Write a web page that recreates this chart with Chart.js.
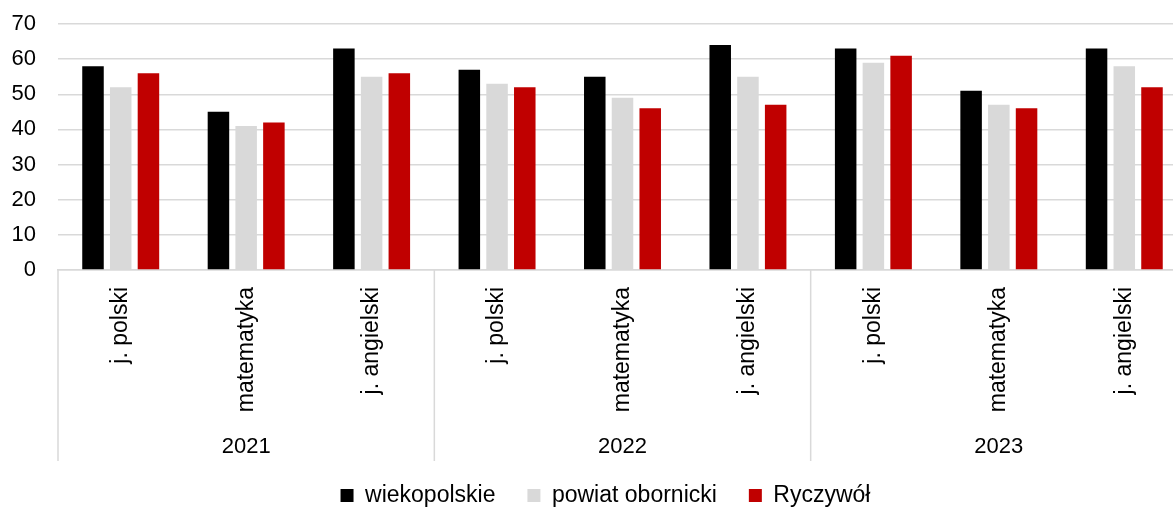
<!DOCTYPE html>
<html>
<head>
<meta charset="utf-8">
<script src="https://cdn.jsdelivr.net/npm/chart.js@4/dist/chart.umd.min.js"></script>
<style>
html,body{margin:0;padding:0;background:#fff;overflow:hidden;}
#wrap{width:1187px;height:507px;position:relative;}
</style>
</head>
<body>
<div id="wrap"><canvas id="c"></canvas></div>
<script>
const years = ['2021', '2022', '2023'];
const subjects = ['j. polski', 'matematyka', 'j. angielski'];
const seriesNames = ['wiekopolskie', 'powiat obornicki', 'Ryczywół'];
const wielkopolskie = [58, 45, 63, 57, 55, 64, 63, 51, 63];
const powiatObornicki = [52, 41, 55, 53, 49, 55, 59, 47, 58];
const ryczywol = [56, 42, 56, 52, 46, 47, 61, 46, 52];
const yMin = 0, yMax = 70, yStep = 10;

const labels = [];
years.forEach(() => subjects.forEach(s => labels.push(s)));

const FONT = '"Liberation Sans", Arial, sans-serif';
const GRID = '#d9d9d9';

const groupPlugin = {
  id: 'groups',
  afterLayout(chart) {
    if (chart.legend) { chart.legend.left += 12; chart.legend.right += 12; }
  },
  afterDraw(chart) {
    const x = chart.scales.x, ctx = chart.ctx, a = chart.chartArea;
    const per = subjects.length;
    const top = a.bottom, bottom = 461;
    ctx.save();
    ctx.strokeStyle = GRID;
    ctx.lineWidth = 1.5;
    const bounds = [a.left];
    for (let g = 1; g < years.length; g++) {
      bounds.push((x.getPixelForValue(g * per - 1) + x.getPixelForValue(g * per)) / 2);
    }
    bounds.push(a.right);
    bounds.forEach(b => {
      ctx.beginPath(); ctx.moveTo(b, top); ctx.lineTo(b, bottom); ctx.stroke();
    });
    ctx.fillStyle = '#000';
    ctx.font = '22px ' + FONT;
    ctx.textAlign = 'center';
    ctx.textBaseline = 'middle';
    years.forEach((y, g) => {
      const cx = x.getPixelForValue(g * per + (per - 1) / 2);
      ctx.fillText(y, cx, 447);
    });
    ctx.restore();
  }
};

new Chart(document.getElementById('c'), {
  type: 'bar',
  data: {
    labels: labels,
    datasets: [
      { label: seriesNames[0], data: wielkopolskie, backgroundColor: '#000000' },
      { label: seriesNames[1], data: powiatObornicki, backgroundColor: '#d9d9d9' },
      { label: seriesNames[2], data: ryczywol, backgroundColor: '#c00000' }
    ]
  },
  options: {
    responsive: true,
    maintainAspectRatio: false,
    animation: false,
    datasets: { bar: { categoryPercentage: 0.663, barPercentage: 0.776, borderWidth: 0 } },
    layout: { padding: { top: 24, left: 0, right: 0, bottom: 0 } },
    scales: {
      x: {
        grid: { display: false, drawTicks: false },
        border: { display: true, color: GRID, width: 1.5 },
        ticks: {
          autoSkip: false, maxRotation: 90, minRotation: 90, padding: 17,
          color: '#000', font: { family: FONT, size: 23 }
        },
        afterFit(scale) { scale.height = 182; }
      },
      y: {
        min: yMin, max: yMax,
        grid: { color: GRID, lineWidth: 1.5, drawTicks: true, tickLength: 22, tickColor: 'rgba(0,0,0,0)' },
        border: { display: false },
        ticks: {
          stepSize: yStep, padding: 0, color: '#000',
          font: { family: FONT, size: 22 }
        },
        afterFit(scale) { scale.width = 58; }
      }
    },
    plugins: {
      tooltip: { enabled: false },
      legend: {
        position: 'bottom',
        maxHeight: 55,
        labels: {
          boxWidth: 13, boxHeight: 13, padding: 32, color: '#000',
          font: { family: FONT, size: 23 }
        }
      }
    }
  },
  plugins: [groupPlugin]
});
</script>
</body>
</html>
